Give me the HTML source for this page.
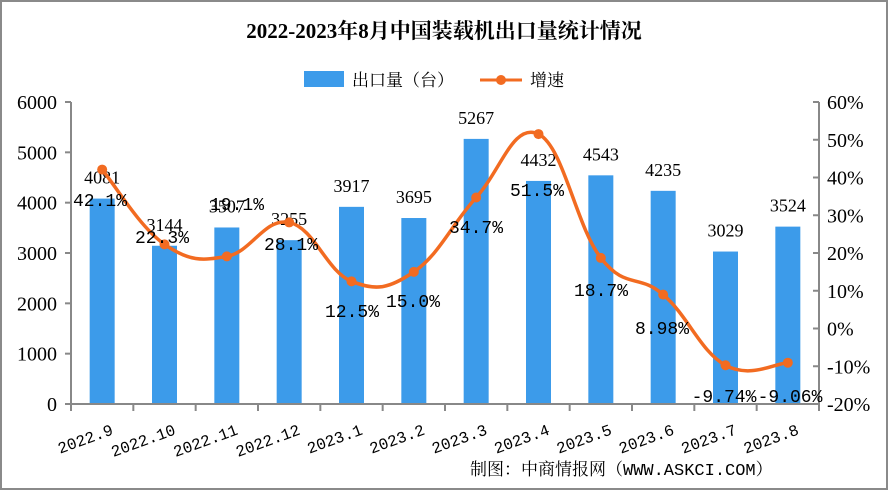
<!DOCTYPE html>
<html><head><meta charset="utf-8"><style>
html,body{margin:0;padding:0;background:#fff;}
svg{display:block;}
text{font-family:"Liberation Serif","Noto Serif CJK SC",serif;}
.m{font-family:"Liberation Mono","Noto Serif CJK SC",monospace;}
</style></head><body>
<svg id="s" width="888" height="490" xmlns="http://www.w3.org/2000/svg">
<rect x="1" y="1" width="886" height="488" fill="#fff" stroke="#8a8a8a" stroke-width="2"/>
<text x="444" y="38" text-anchor="middle" font-size="21" font-weight="bold" fill="#000">2022-2023年8月中国装载机出口量统计情况</text>
<rect x="304" y="71" width="40" height="16" fill="#3c9bea"/>
<text x="352" y="86" font-size="17" fill="#000">出口量（台）</text>
<line x1="480" y1="80" x2="522" y2="80" stroke="#f26b21" stroke-width="3"/>
<circle cx="501" cy="80" r="5" fill="#f26b21"/>
<text x="530" y="86" font-size="17" fill="#000">增速</text>
<g id="g"></g>
<text x="470" y="475" font-size="17" fill="#000" class="m">制图：中商情报网（WWW.ASKCI.COM）</text>
</svg>
<script>
var g=document.getElementById('g'),h='';
var L=71,R=819,B=404,T=102,w=(R-L)/12;
var v=[4081,3144,3507,3255,3917,3695,5267,4432,4543,4235,3029,3524];
var p=[42.1,22.3,19.1,28.1,12.5,15.0,34.7,51.5,18.7,8.98,-9.74,-9.06];
var pl=['42.1%','22.3%','19.1%','28.1%','12.5%','15.0%','34.7%','51.5%','18.7%','8.98%','-9.74%','-9.06%'];
var c=['2022.9','2022.10','2022.11','2022.12','2023.1','2023.2','2023.3','2023.4','2023.5','2023.6','2023.7','2023.8'];
function yl(x){return B-x*(B-T)/6000;}
function yr(x){return B-(x+20)*(B-T)/80;}
for(var i=0;i<=6;i++){var y=yl(i*1000);h+='<text x="57" y="'+(y+7)+'" text-anchor="end" font-size="20">'+(i*1000)+'</text>';h+='<line x1="65" y1="'+y+'" x2="71" y2="'+y+'" stroke="#888" stroke-width="2"/>';}
for(var i=0;i<=8;i++){var q=-20+i*10,y=yr(q);h+='<text x="827" y="'+(y+7)+'" font-size="20">'+q+'%</text>';h+='<line x1="813" y1="'+y+'" x2="819" y2="'+y+'" stroke="#888" stroke-width="2"/>';}
var pts=[];
for(var i=0;i<12;i++){var cx=L+w*(i+0.5),y=yl(v[i]);
h+='<rect x="'+(cx-12.5)+'" y="'+y+'" width="25" height="'+(B-y)+'" fill="#3c9bea"/>';
h+='<text x="'+cx+'" y="'+(y-15)+'" text-anchor="middle" font-size="18">'+v[i]+'</text>';
pts.push([cx,yr(p[i])]);
h+='<line x1="'+(L+w*i)+'" y1="'+B+'" x2="'+(L+w*i)+'" y2="'+(B+7)+'" stroke="#888" stroke-width="2"/>';
h+='<text class="m" transform="translate('+(cx+12)+','+(B+30)+') rotate(-20)" text-anchor="end" font-size="16">'+c[i]+'</text>';}
h+='<line x1="'+R+'" y1="'+B+'" x2="'+R+'" y2="'+(B+7)+'" stroke="#888" stroke-width="2"/>';
h+='<line x1="71" y1="102" x2="71" y2="405" stroke="#888" stroke-width="2"/><line x1="819" y1="102" x2="819" y2="405" stroke="#888" stroke-width="2"/><line x1="70" y1="404" x2="820" y2="404" stroke="#888" stroke-width="2"/>';
var d='M'+pts[0][0]+','+pts[0][1];
for(var i=0;i<11;i++){var p0=pts[Math.max(i-1,0)],p1=pts[i],p2=pts[i+1],p3=pts[Math.min(i+2,11)],k=0.2;
d+=' C'+(p1[0]+(p2[0]-p0[0])*k)+','+(p1[1]+(p2[1]-p0[1])*k)+' '+(p2[0]-(p3[0]-p1[0])*k)+','+(p2[1]-(p3[1]-p1[1])*k)+' '+p2[0]+','+p2[1];}
h+='<path d="'+d+'" fill="none" stroke="#f26b21" stroke-width="3.5"/>';
for(var i=0;i<12;i++){h+='<circle cx="'+pts[i][0]+'" cy="'+pts[i][1]+'" r="5" fill="#f26b21"/>';}
var lp=[[100,206],[162,243],[237,210],[291,250],[352,317],[413,307],[476,233],[537,196],[601,296],[662,334],[724,402],[790,402]];
for(var i=0;i<12;i++){h+='<text class="m" x="'+lp[i][0]+'" y="'+lp[i][1]+'" text-anchor="middle" font-size="18">'+pl[i]+'</text>';}
g.innerHTML=h;
</script>
</body></html>
